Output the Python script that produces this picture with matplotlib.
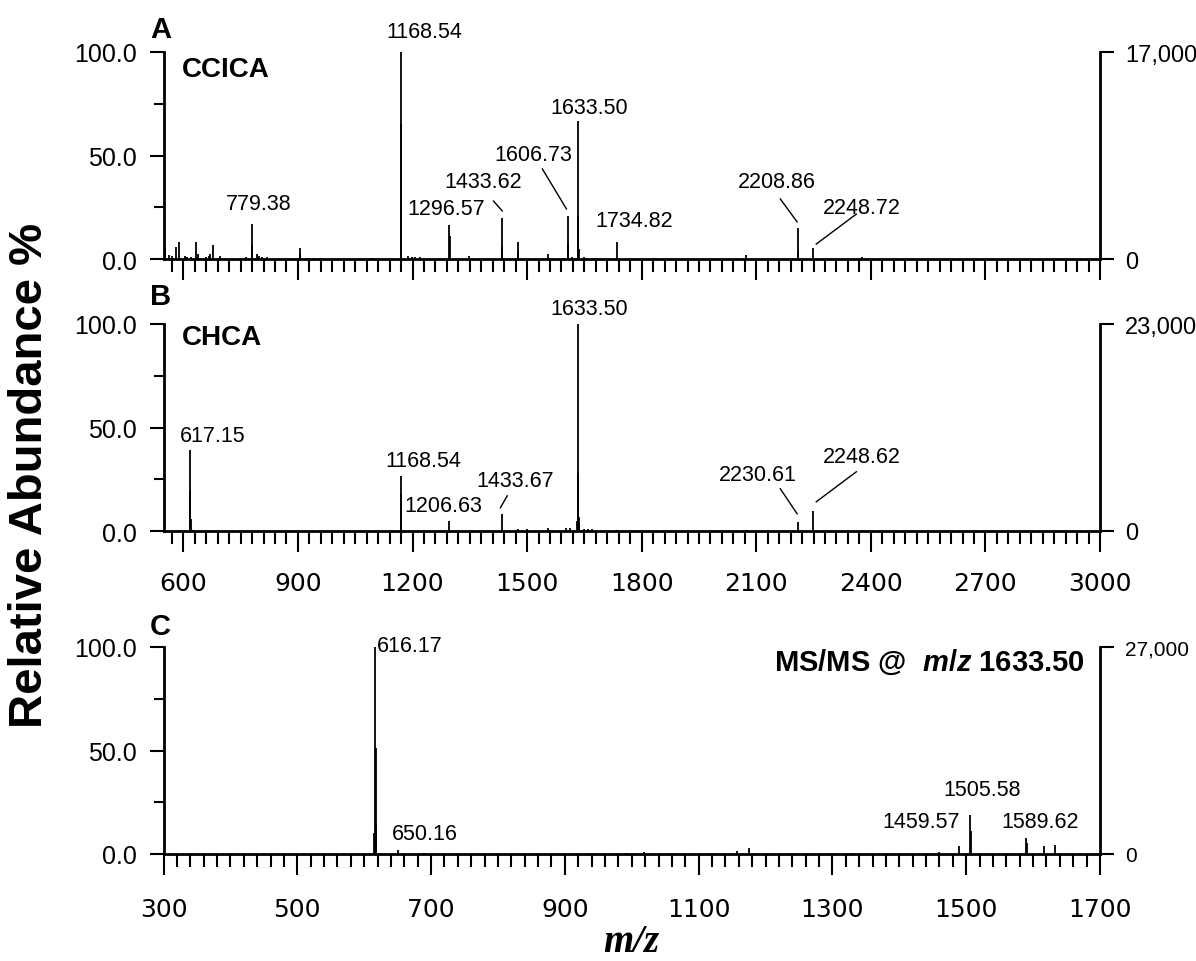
import numpy as np
import matplotlib
matplotlib.use("Agg")
import matplotlib.pyplot as plt
from matplotlib.ticker import FixedLocator

plt.rcParams['font.family'] = ['Liberation Sans', 'DejaVu Sans']
plt.rcParams['mathtext.fontset'] = 'custom'
plt.rcParams['mathtext.it'] = 'Liberation Sans:italic:bold'
plt.rcParams['mathtext.rm'] = 'Liberation Sans:bold'

# ---- data (m/z, relative abundance %) ----
# A: CCICA matrix
mz_a = [551, 562, 569, 582, 588, 604, 610, 619, 634, 639, 658, 667, 671, 678, 695,
        763, 779.38, 780.4, 793, 799, 806, 818, 905, 906.5, 924, 930, 942, 959,
        1090, 1096, 1168.54, 1169.5, 1170.5, 1188, 1199, 1207, 1220,
        1296.57, 1297.6, 1347, 1433.62, 1434.6, 1475, 1476.5, 1556, 1596,
        1606.73, 1607.7, 1618, 1632.5, 1633.50, 1634.5, 1635.5, 1648, 1657, 1670, 1679,
        1734.82, 1833, 2074, 2208.86, 2209.9, 2248.72, 2377]
int_a = [5.6, 2.0, 1.6, 5.6, 8.0, 1.6, 1.0, 0.8, 8.0, 2.4, 0.8, 1.6, 2.4, 6.8, 1.3,
         0.8, 17.0, 6.8, 2.4, 1.6, 0.8, 0.8, 5.2, 2.4, 0.5, 0.5, 0.5, 0.5,
         0.5, 0.5, 100.0, 65.0, 22.0, 1.6, 0.8, 0.8, 0.8,
         16.4, 11.0, 1.3, 20.0, 6.0, 8.4, 4.0, 2.4, 0.5,
         21.0, 7.7, 0.8, 4.0, 66.5, 21.0, 5.0, 0.8, 0.5, 0.5, 0.4,
         8.4, 0.3, 2.0, 14.8, 4.0, 5.2, 1.0]

# B: CHCA matrix
mz_b = [592, 617.15, 618.2, 619.2, 625, 1168.54, 1169.5, 1170.5, 1296.63,
        1433.67, 1477, 1500, 1556, 1603, 1612, 1631.5, 1632.5, 1633.50, 1634.5,
        1635.5, 1636.5, 1650, 1660, 1670, 1735, 2076, 2209, 2248.62, 2377]
int_b = [0.5, 39.0, 20.0, 5.7, 0.5, 26.5, 18.0, 6.8, 4.7,
         8.0, 1.0, 1.0, 1.5, 1.5, 1.5, 5.0, 7.0, 100.0, 28.0,
         7.0, 4.0, 1.0, 1.0, 0.8, 0.5, 0.7, 4.4, 9.7, 0.5]

# C: MS/MS of m/z 1633.50
mz_c = [614.5, 616.17, 617.2, 618.2, 650.16, 690, 992, 1019, 1157, 1175, 1329,
        1460, 1489, 1505.58, 1506.6, 1589.62, 1590.6, 1616, 1633]
int_c = [10.0, 100.0, 51.0, 14.0, 1.8, 0.6, 0.4, 0.8, 1.4, 2.9, 0.5,
         1.0, 3.7, 18.7, 11.0, 7.9, 5.5, 3.7, 4.2]

max_counts = [17000, 23000, 27000]
right_labels = ['17,000', '23,000', '27,000']

# peak labels: (text, x, y) in data coords
labels_a = [('1168.54', 1231, 109.7), ('779.38', 797, 26.6), ('1296.57', 1289, 24.2),
            ('1433.62', 1385, 37.2), ('1606.73', 1516, 50.7), ('1633.50', 1663, 73.4),
            ('1734.82', 1781, 18.4), ('2208.86', 2155, 37.2), ('2248.72', 2377, 25.1)]
leaders_a = [((1412, 1435), (28.0, 23.2)), ((1540, 1603), (43.5, 24.2)),
             ((2163, 2207), (29.0, 17.9)), ((2362, 2257), (21.7, 7.2))]
labels_b = [('617.15', 676, 46.1), ('1168.54', 1228, 34.0), ('1206.63', 1281, 12.1),
            ('1433.67', 1469, 24.3), ('1633.50', 1663, 107.3), ('2230.61', 2105, 27.2),
            ('2248.62', 2377, 35.9)]
leaders_b = [((1448, 1430), (17.0, 11.2)), ((2163, 2207), (20.4, 8.3)),
             ((2362, 2257), (28.6, 14.1))]
labels_c = [('650.16', 691, 10.1), ('1505.58', 1524, 31.4), ('1589.62', 1611, 15.5)]

W, H = 1196, 962
fig = plt.figure(figsize=(W / 100, H / 100), dpi=100)
fig.patch.set_facecolor('white')

left = 163.5 / W
width = (1100 - 163.5) / W
bottoms = [1 - 260 / H, 1 - 532 / H, 1 - 855 / H]
ht = 207 / H


def make_panel(bottom, mz, inten, xlim, majors, minors, ymax_counts, rlabel, show_xlabels, rsize):
    ax = fig.add_axes([left, bottom, width, ht])
    ax.vlines(mz, 0, inten, color='black', lw=1.3)
    ax.set_xlim(*xlim)
    ax.set_ylim(0, 100)
    for s in ['top', 'right']:
        ax.spines[s].set_visible(False)
    for s in ['left', 'bottom']:
        ax.spines[s].set_linewidth(2)
    ax.set_yticks([0, 50, 100])
    ax.set_yticklabels(['0.0', '50.0', '100.0'])
    ax.yaxis.set_minor_locator(FixedLocator([25, 75]))
    ax.xaxis.set_major_locator(FixedLocator(majors))
    ax.xaxis.set_minor_locator(FixedLocator(minors))
    ax.tick_params(axis='y', which='major', length=10, width=1.5, labelsize=18, pad=9)
    ax.tick_params(axis='y', which='minor', length=7, width=1.5)
    ax.tick_params(axis='x', which='major', length=15, width=1.5, labelsize=18,
                   pad=14, labelbottom=show_xlabels)
    ax.tick_params(axis='x', which='minor', length=9, width=1.5)
    for t in ax.get_xticklabels():
        t.set_fontfamily('DejaVu Sans')

    ax2 = ax.twinx()
    ax2.set_ylim(0, ymax_counts)
    ax2.set_yticks([0, ymax_counts])
    ax2.set_yticklabels(['0', rlabel])
    for s in ['top', 'left', 'bottom']:
        ax2.spines[s].set_visible(False)
    ax2.spines['right'].set_linewidth(2)
    ax2.tick_params(axis='y', length=10, width=1.5, labelsize=rsize, pad=8)
    return ax


ms_major = np.arange(600, 3001, 300)
ms_minor = np.arange(570, 3001, 30)
msms_major = np.arange(300, 1701, 200)
msms_minor = np.arange(300, 1701, 20)

ax_a = make_panel(bottoms[0], mz_a, int_a, (548, 3000), ms_major, ms_minor, max_counts[0],
                  right_labels[0], False, 17)
ax_b = make_panel(bottoms[1], mz_b, int_b, (548, 3000), ms_major, ms_minor, max_counts[1],
                  right_labels[1], True, 17)
ax_c = make_panel(bottoms[2], mz_c, int_c, (300, 1700), msms_major, msms_minor, max_counts[2],
                  right_labels[2], True, 15)
ax_c.tick_params(axis='x', which='major', pad=16)

lab_kw = dict(fontsize=15.5, ha='center', va='center', clip_on=False)
for ax, labs, leads in [(ax_a, labels_a, leaders_a), (ax_b, labels_b, leaders_b)]:
    for txt, x, y in labs:
        ax.text(x, y, txt, **lab_kw)
    for xs, ys in leads:
        ax.plot(xs, ys, color='black', lw=1, clip_on=False)

for txt, x, y in labels_c:
    ax_c.text(x, y, txt, **lab_kw)
ax_c.text(619, 100.5, '616.17', fontsize=15.5, ha='left', va='center', clip_on=False)
ax_c.text(1490, 15.5, '1459.57', fontsize=15.5, ha='right', va='center', clip_on=False)
ax_c.text(1677, 92.8, r'MS/MS @  $\mathit{m/z}$ 1633.50', fontsize=21,
          fontweight='bold', ha='right', va='center')

# panel letters and matrix names
fig.text(150 / W, 1 - 30 / H, 'A', fontsize=21, fontweight='bold', va='center')
fig.text(150 / W, 1 - 297 / H, 'B', fontsize=21, fontweight='bold', va='center')
fig.text(150 / W, 1 - 627 / H, 'C', fontsize=21, fontweight='bold', va='center')
fig.text(182 / W, 1 - 70 / H, 'CCICA', fontsize=20, fontweight='bold', va='center')
fig.text(182 / W, 1 - 338 / H, 'CHCA', fontsize=20, fontweight='bold', va='center')

fig.text(30 / W, 1 - 475 / H, 'Relative Abundance %', fontsize=34, fontweight='bold',
         rotation=90, ha='center', va='center')
fig.text(631 / W, 1 - 943 / H, 'm/z', fontsize=28, fontweight='bold', fontstyle='italic',
         family='Liberation Serif', ha='center', va='center')

fig.savefig('out.png', dpi=100, facecolor='white')
